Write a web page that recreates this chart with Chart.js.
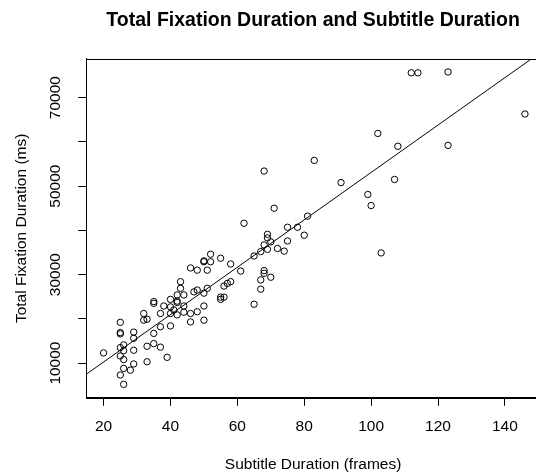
<!DOCTYPE html>
<html>
<head>
<meta charset="utf-8">
<script src="https://cdn.jsdelivr.net/npm/chart.js@4.4.1/dist/chart.umd.min.js"></script>
<style>
  html, body { margin: 0; padding: 0; background: #fff; overflow: hidden; }
  #wrap { position: relative; width: 560px; height: 476px; }
</style>
</head>
<body>
<div id="wrap"><canvas id="grafico"></canvas></div>
<script>
// Subtitle duration (frames) for each clip
var subtitleFrames = [
  20, 25, 25, 25, 26, 25, 26, 25, 26, 29, 29, 29, 29, 26, 28, 25, 26, 33, 33, 35, 35, 37, 39,
  32, 32, 33, 35, 35, 37, 37, 38, 40, 40, 40, 40, 42, 42, 41, 42, 42, 43, 43, 44, 44, 44,
  46, 46, 48, 50, 50, 47, 48, 50, 51, 55, 55, 56, 56, 57, 58, 46, 48, 51, 50, 50, 52, 52,
  55, 58, 61,
  62, 65, 65, 67, 67, 67, 68, 68, 68, 68, 69, 69, 69, 70, 70, 71, 72, 74, 75, 75, 78, 80, 81, 83,
  91, 99, 100, 102, 103, 107, 108, 112, 114, 123, 123, 146
];

// Total fixation duration (ms) for the same clips
var fixationMs = [
  12300, 19200, 16600, 16900, 14100, 13500, 12800, 11600, 10800, 17000, 15600, 12900, 9800,
  8800, 8400, 7300, 5200, 13800, 10300, 16700, 14400, 13600, 11300,
  21200, 19700, 19900, 23500, 23900, 21200, 18200, 22900, 24400, 22700, 21200, 18400, 23700,
  24000, 22000, 25400, 20900, 26900, 28400, 25400, 22900, 21500,
  21200, 19300, 21600, 22900, 19700, 26100, 26500, 25800, 26900, 24400, 24900, 24900, 27400,
  28000, 28400, 31500, 31000, 31000, 32900, 33100, 32900, 34600,
  33700, 32400, 30800,
  41600, 34200, 23300, 35200, 28800, 26700, 36700, 30900, 30300, 53400, 39100, 38300, 35700,
  37400, 29400, 45000, 35900, 35300, 40700, 37600, 40700, 38900, 43200, 55800,
  50800, 48100, 45600, 61900, 34900, 51500, 59000, 75600, 75600, 75800, 59200, 66300
];

// Axis ranges and tick marks
var xRange = [14.8, 150.5];
var yRange = [2150, 78750];
var xTicks = [20, 40, 60, 80, 100, 120, 140];
var yTicks = [10000, 20000, 30000, 40000, 50000, 60000, 70000];
var yTickLabels = [10000, 30000, 50000, 70000];

var fuente = "'Liberation Sans', Arial, sans-serif";

// Least squares fit y = a + b*x
var n = subtitleFrames.length;
var mx = 0, my = 0;
for (var i = 0; i < n; i++) { mx += subtitleFrames[i]; my += fixationMs[i]; }
mx /= n; my /= n;
var sxy = 0, sxx = 0;
for (var i = 0; i < n; i++) {
  sxy += (subtitleFrames[i] - mx) * (fixationMs[i] - my);
  sxx += (subtitleFrames[i] - mx) * (subtitleFrames[i] - mx);
}
var b = sxy / sxx;
var a = my - b * mx;

var puntos = subtitleFrames.map(function(x, i) { return { x: x, y: fixationMs[i] }; });
var recta = xRange.map(function(x) { return { x: x, y: a + b * x }; });

// Box around the plotting region
var marco = {
  id: 'marco',
  afterDraw: function(chart) {
    var c = chart.ctx, ca = chart.chartArea;
    c.save();
    c.strokeStyle = '#000';
    c.lineWidth = 1;
    c.strokeRect(Math.round(ca.left) + 0.5, Math.round(ca.top) + 0.5,
                 Math.round(ca.right - ca.left), Math.round(ca.bottom - ca.top));
    c.restore();
  }
};

var ctx = document.getElementById('grafico').getContext('2d');
var grafico = new Chart(ctx, {
  type: 'scatter',
  data: {
    datasets: [{
      label: 'Clips',
      data: puntos,
      pointStyle: 'circle',
      pointRadius: 3.2,
      pointBorderWidth: 1,
      borderColor: '#000',
      backgroundColor: 'rgba(0,0,0,0)'
    }, {
      type: 'line',
      label: 'Ajuste',
      data: recta,
      borderColor: '#000',
      borderWidth: 1,
      pointRadius: 0,
      fill: false
    }]
  },
  plugins: [marco],
  options: {
    responsive: true,
    maintainAspectRatio: false,
    animation: false,
    layout: { padding: { left: 0, right: 20, top: 0, bottom: 0 } },
    plugins: {
      legend: { display: false },
      tooltip: { enabled: false },
      title: {
        display: true,
        text: 'Total Fixation Duration and Subtitle Duration',
        color: '#000',
        fullSize: false,
        font: { family: fuente, size: 19.5, weight: 'bold' },
        padding: { top: 9, bottom: 26.5 }
      }
    },
    scales: {
      x: {
        type: 'linear',
        min: xRange[0],
        max: xRange[1],
        afterBuildTicks: function(s) { s.ticks = xTicks.map(function(v) { return { value: v }; }); },
        ticks: {
          color: '#000',
          font: { family: fuente, size: 15.5 },
          padding: 12,
          maxRotation: 0,
          callback: function(v) { return String(v); }
        },
        grid: { drawOnChartArea: false, tickLength: 8, color: '#000' },
        border: { display: true, color: '#000' },
        title: {
          display: true,
          text: 'Subtitle Duration (frames)',
          color: '#000',
          font: { family: fuente, size: 15.5 },
          padding: { top: 7, bottom: 2 }
        }
      },
      y: {
        type: 'linear',
        min: yRange[0],
        max: yRange[1],
        afterBuildTicks: function(s) { s.ticks = yTicks.map(function(v) { return { value: v }; }); },
        ticks: {
          color: '#000',
          font: { family: fuente, size: 15.5 },
          padding: 1,
          minRotation: 90,
          maxRotation: 90,
          crossAlign: 'center',
          callback: function(v) { return yTickLabels.indexOf(v) >= 0 ? String(v) : ''; }
        },
        grid: { drawOnChartArea: false, tickLength: 8, color: '#000' },
        border: { display: true, color: '#000' },
        title: {
          display: true,
          text: 'Total Fixation Duration (ms)',
          color: '#000',
          font: { family: fuente, size: 15.5 },
          padding: { top: 12, bottom: 27 }
        }
      }
    }
  }
});
</script>
</body>
</html>
